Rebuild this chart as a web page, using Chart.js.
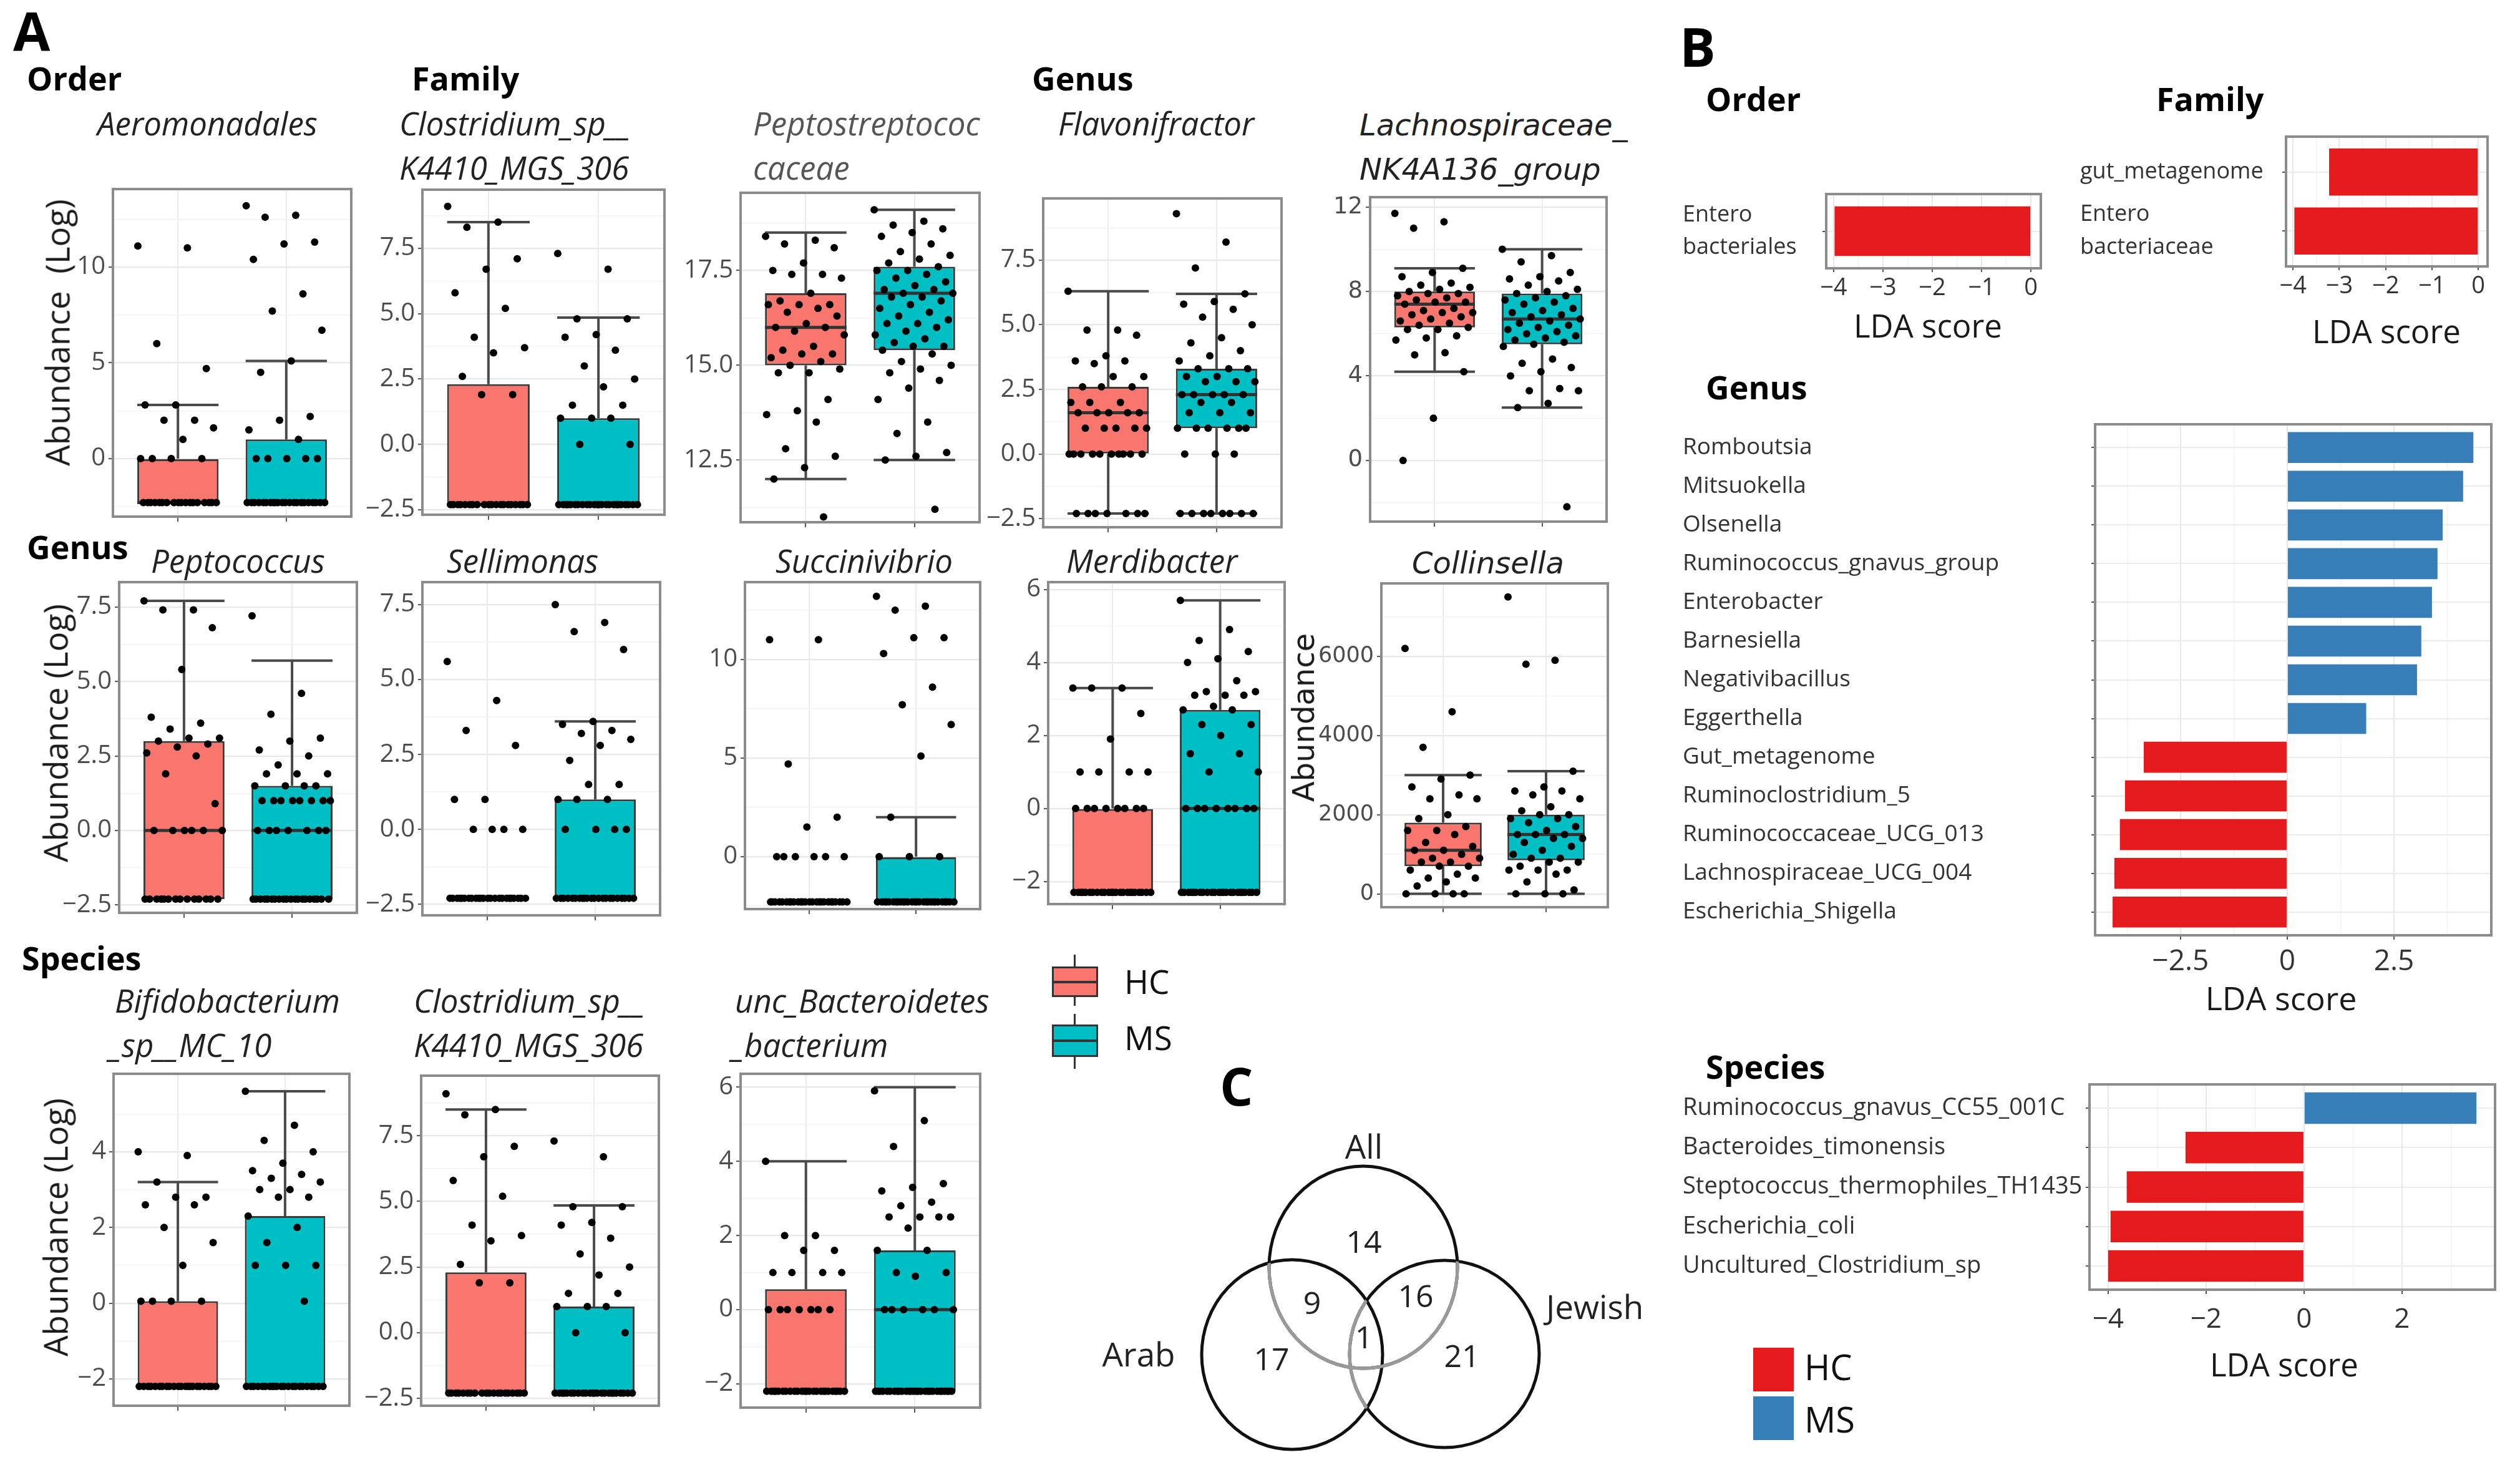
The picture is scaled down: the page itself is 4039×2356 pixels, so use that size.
<!DOCTYPE html>
<html><head><meta charset="utf-8">
<script src="https://cdn.jsdelivr.net/npm/chart.js@4.4.1/dist/chart.umd.min.js"></script>
<style>
html,body{margin:0;padding:0;background:#fff;}
#page{position:relative;width:4039px;height:2356px;overflow:hidden;background:#fff;}
.t{position:absolute;white-space:pre;line-height:1;}
canvas{position:absolute;}
</style></head><body><div id="page"></div>
<script>
// ---------------- DATA ----------------
const groups = ['HC', 'MS'];
// box stats: [lower whisker, Q1, median, Q3, upper whisker]
const aeroBoxHC = [-2.3, -2.3, -2.3, 0.0, 2.8];
const aeroBoxMS = [-2.3, -2.3, -2.3, 1.0, 5.1];
const aeroHC = [11.1, 11.0, 6.0, 4.7, 2.8, 2.8, 2.0, 2.0, 1.6, 1.0, 0, 0, 0, 0, -2.3, -2.3, -2.3, -2.3, -2.3, -2.3, -2.3, -2.3, -2.3, -2.3, -2.3, -2.3, -2.3, -2.3, -2.3, -2.3, -2.3, -2.3];
const aeroMS = [13.2, 12.7, 12.6, 11.3, 11.2, 10.4, 8.6, 7.7, 6.7, 5.1, 4.5, 2.2, 2.0, 1.5, 1.0, 0, 0, 0, 0, 0, -2.3, -2.3, -2.3, -2.3, -2.3, -2.3, -2.3, -2.3, -2.3, -2.3, -2.3, -2.3, -2.3, -2.3, -2.3, -2.3, -2.3, -2.3, -2.3, -2.3, -2.3, -2.3];

const clostBoxHC = [-2.3, -2.3, -2.3, 2.3, 8.5];
const clostBoxMS = [-2.3, -2.3, -2.3, 1.0, 4.85];
const clostHC = [9.1, 8.5, 8.3, 7.1, 6.7, 5.8, 5.2, 4.1, 3.7, 3.5, 2.6, 1.9, 1.9, -2.3, -2.3, -2.3, -2.3, -2.3, -2.3, -2.3, -2.3, -2.3, -2.3, -2.3, -2.3, -2.3, -2.3, -2.3, -2.3, -2.3, -2.3, -2.3, -2.3];
const clostMS = [7.3, 6.7, 4.8, 4.8, 4.2, 4.1, 3.6, 3.0, 2.5, 2.2, 1.5, 1.5, 1.0, 1.0, 1.0, 0.0, 0.0, -2.3, -2.3, -2.3, -2.3, -2.3, -2.3, -2.3, -2.3, -2.3, -2.3, -2.3, -2.3, -2.3, -2.3, -2.3, -2.3, -2.3, -2.3, -2.3, -2.3, -2.3, -2.3, -2.3, -2.3];

const peptoBoxHC = [12.0, 15.0, 16.0, 16.9, 18.5];
const peptoBoxMS = [12.5, 15.4, 16.9, 17.6, 19.1];
const peptoHC = [18.4, 18.3, 18.2, 18.1, 17.7, 17.5, 17.4, 17.4, 17.3, 16.9, 16.7, 16.6, 16.6, 16.6, 16.5, 16.4, 16.3, 16.1, 16.0, 16.0, 15.9, 15.8, 15.5, 15.4, 15.3, 15.3, 15.2, 15.1, 15.0, 14.9, 14.8, 14.8, 14.1, 13.8, 13.7, 13.5, 12.8, 12.6, 12.3, 12.0, 11.0];
const peptoMS = [19.1, 18.8, 18.7, 18.6, 18.5, 18.4, 18.2, 18.0, 17.9, 17.8, 17.7, 17.6, 17.5, 17.5, 17.4, 17.3, 17.2, 17.1, 17.0, 17.0, 16.9, 16.9, 16.8, 16.8, 16.7, 16.6, 16.5, 16.4, 16.3, 16.2, 16.1, 16.1, 16.0, 15.9, 15.8, 15.7, 15.6, 15.5, 15.5, 15.4, 15.3, 15.1, 15.0, 14.9, 14.8, 14.6, 14.4, 14.1, 13.5, 13.2, 12.7, 12.6, 12.5, 11.2];

const flavoBoxHC = [-2.3, 0.0, 1.6, 2.6, 6.3];
const flavoBoxMS = [-2.3, 1.0, 2.3, 3.3, 6.2];
const flavoHC = [6.3, 4.8, 4.8, 4.6, 3.8, 3.6, 3.6, 3.5, 3.0, 3.0, 2.6, 2.6, 2.6, 2.0, 2.0, 2.0, 1.6, 1.6, 1.6, 1.6, 1.6, 1.0, 1.0, 1.0, 1.0, 1.0, 0, 0, 0, 0, 0, 0, 0, 0, 0, 0, -2.3, -2.3, -2.3, -2.3, -2.3, -2.3, -2.3];
const flavoMS = [9.3, 8.2, 7.2, 6.2, 5.9, 5.8, 5.6, 5.3, 5.0, 4.5, 4.3, 4.0, 3.8, 3.6, 3.3, 3.3, 3.3, 3.0, 3.0, 2.8, 2.8, 2.8, 2.3, 2.3, 2.3, 2.3, 2.3, 2.0, 2.0, 1.6, 1.6, 1.6, 1.0, 1.0, 1.0, 1.0, 1.0, 1.0, 0, 0, 0, -2.3, -2.3, -2.3, -2.3, -2.3, -2.3, -2.3, -2.3];

const lachnoBoxHC = [4.2, 6.3, 7.4, 8.0, 9.1];
const lachnoBoxMS = [2.5, 5.5, 6.7, 7.9, 10.0];
const lachnoHC = [11.7, 11.3, 11.0, 9.1, 8.9, 8.7, 8.4, 8.3, 8.2, 8.1, 8.0, 7.9, 7.9, 7.8, 7.7, 7.6, 7.5, 7.5, 7.4, 7.2, 7.1, 7.0, 7.0, 6.9, 6.8, 6.7, 6.6, 6.5, 6.4, 6.3, 6.2, 6.2, 5.9, 5.8, 5.7, 5.1, 5.0, 4.2, 2.0, 0.0];
const lachnoMS = [10.0, 9.7, 9.4, 8.9, 8.7, 8.6, 8.5, 8.3, 8.1, 8.0, 7.9, 7.8, 7.7, 7.6, 7.5, 7.4, 7.2, 7.1, 7.0, 6.9, 6.8, 6.7, 6.6, 6.5, 6.4, 6.3, 6.2, 6.1, 6.0, 5.9, 5.8, 5.7, 5.6, 5.5, 5.4, 4.8, 4.6, 4.4, 4.2, 4.0, 3.4, 3.3, 3.3, 2.7, 2.5, -2.2];

const peptocBoxHC = [-2.3, -2.3, 0.0, 3.0, 7.7];
const peptocBoxMS = [-2.3, -2.3, 0.0, 1.5, 5.7];
const peptocHC = [7.7, 7.4, 7.4, 6.8, 5.4, 3.8, 3.6, 3.4, 3.1, 3.1, 3.0, 2.9, 2.8, 2.6, 2.5, 1.9, 0.9, 0, 0, 0, 0, 0, 0, -2.3, -2.3, -2.3, -2.3, -2.3, -2.3, -2.3, -2.3, -2.3, -2.3, -2.3, -2.3, -2.3, -2.3];
const peptocMS = [7.2, 4.6, 3.9, 3.1, 3.0, 2.7, 2.5, 2.2, 1.9, 1.9, 1.9, 1.5, 1.5, 1.5, 1.5, 1.0, 1.0, 1.0, 1.0, 1.0, 1.0, 1.0, 1.0, 0, 0, 0, 0, 0, 0, 0, -2.3, -2.3, -2.3, -2.3, -2.3, -2.3, -2.3, -2.3, -2.3, -2.3, -2.3, -2.3, -2.3, -2.3, -2.3, -2.3, -2.3, -2.3, -2.3, -2.3];

const selliBoxHC = [-2.3, -2.3, -2.3, -2.3, -2.3];
const selliBoxMS = [-2.3, -2.3, -2.3, 1.0, 3.6];
const selliHC = [5.6, 4.3, 3.3, 2.8, 1.0, 1.0, 0, 0, 0, 0, -2.3, -2.3, -2.3, -2.3, -2.3, -2.3, -2.3, -2.3, -2.3, -2.3, -2.3, -2.3, -2.3, -2.3, -2.3, -2.3, -2.3, -2.3, -2.3, -2.3, -2.3, -2.3, -2.3, -2.3];
const selliMS = [7.5, 6.9, 6.6, 6.0, 3.6, 3.5, 3.3, 3.2, 3.0, 2.8, 2.3, 1.5, 1.5, 1.0, 1.0, 1.0, 0, 0, 0, 0, -2.3, -2.3, -2.3, -2.3, -2.3, -2.3, -2.3, -2.3, -2.3, -2.3, -2.3, -2.3, -2.3, -2.3, -2.3, -2.3, -2.3, -2.3, -2.3, -2.3, -2.3, -2.3];

const succBoxHC = [-2.3, -2.3, -2.3, -2.3, -2.3];
const succBoxMS = [-2.3, -2.3, -2.3, 0.0, 2.0];
const succHC = [11.0, 11.0, 4.7, 2.0, 1.5, 0, 0, 0, 0, 0, 0, -2.3, -2.3, -2.3, -2.3, -2.3, -2.3, -2.3, -2.3, -2.3, -2.3, -2.3, -2.3, -2.3, -2.3, -2.3, -2.3, -2.3, -2.3, -2.3, -2.3, -2.3, -2.3, -2.3, -2.3, -2.3, -2.3];
const succMS = [13.2, 12.7, 12.5, 11.1, 11.1, 10.3, 8.6, 7.7, 6.7, 5.1, 2.0, 0, 0, 0, -2.3, -2.3, -2.3, -2.3, -2.3, -2.3, -2.3, -2.3, -2.3, -2.3, -2.3, -2.3, -2.3, -2.3, -2.3, -2.3, -2.3, -2.3, -2.3, -2.3, -2.3, -2.3, -2.3, -2.3, -2.3, -2.3, -2.3, -2.3];

const merdiBoxHC = [-2.3, -2.3, -2.3, 0.0, 3.3];
const merdiBoxMS = [-2.3, -2.3, 0.0, 2.7, 5.7];
const merdiHC = [3.3, 3.3, 3.3, 2.6, 1.9, 1.0, 1.0, 1.0, 1.0, 0, 0, 0, 0, 0, 0, 0, 0, -2.3, -2.3, -2.3, -2.3, -2.3, -2.3, -2.3, -2.3, -2.3, -2.3, -2.3, -2.3, -2.3, -2.3, -2.3, -2.3, -2.3, -2.3, -2.3, -2.3, -2.3, -2.3, -2.3, -2.3];
const merdiMS = [5.7, 4.9, 4.6, 4.3, 4.1, 4.0, 3.5, 3.2, 3.2, 3.1, 3.1, 3.1, 2.8, 2.7, 2.7, 2.3, 2.3, 2.0, 1.5, 1.5, 1.0, 1.0, 0, 0, 0, 0, 0, 0, 0, 0, -2.3, -2.3, -2.3, -2.3, -2.3, -2.3, -2.3, -2.3, -2.3, -2.3, -2.3, -2.3, -2.3, -2.3, -2.3, -2.3, -2.3, -2.3, -2.3, -2.3, -2.3, -2.3, -2.3, -2.3];

const collinBoxHC = [0, 700, 1100, 1800, 3000];
const collinBoxMS = [0, 850, 1500, 2000, 3100];
const collinHC = [6200, 4600, 3700, 3000, 2900, 2700, 2500, 2400, 2400, 2000, 1900, 1700, 1600, 1600, 1500, 1300, 1200, 1100, 1100, 1000, 900, 900, 800, 800, 700, 700, 600, 500, 400, 400, 300, 200, 0, 0, 0, 0];
const collinMS = [7500, 5900, 5800, 3100, 2700, 2600, 2600, 2500, 2400, 2200, 2100, 2000, 2000, 1900, 1900, 1800, 1700, 1600, 1500, 1500, 1500, 1400, 1400, 1300, 1200, 1100, 1000, 900, 900, 800, 800, 700, 600, 600, 600, 500, 300, 100, 0, 0, 0];

const bifidoBoxHC = [-2.2, -2.2, -2.2, 0.05, 3.2];
const bifidoBoxMS = [-2.2, -2.2, -2.2, 2.3, 5.6];
const bifidoHC = [4.0, 3.9, 3.2, 2.8, 2.8, 2.6, 2.6, 2.0, 1.6, 1.0, 0.05, 0.05, 0.05, 0.05, -2.2, -2.2, -2.2, -2.2, -2.2, -2.2, -2.2, -2.2, -2.2, -2.2, -2.2, -2.2, -2.2, -2.2, -2.2, -2.2, -2.2, -2.2, -2.2, -2.2, -2.2, -2.2];
const bifidoMS = [5.6, 4.7, 4.3, 4.0, 3.7, 3.5, 3.4, 3.3, 3.2, 3.0, 3.0, 2.8, 2.8, 2.3, 2.0, 1.6, 1.0, 1.0, 1.0, 0.05, -2.2, -2.2, -2.2, -2.2, -2.2, -2.2, -2.2, -2.2, -2.2, -2.2, -2.2, -2.2, -2.2, -2.2, -2.2, -2.2, -2.2, -2.2, -2.2, -2.2, -2.2, -2.2];

const bactBoxHC = [-2.2, -2.2, -2.2, 0.55, 4.0];
const bactBoxMS = [-2.2, -2.2, 0.0, 1.6, 6.0];
const bactHC = [4.0, 2.0, 2.0, 1.6, 1.6, 1.0, 1.0, 1.0, 1.0, 0, 0, 0, 0, 0, 0, 0, -2.2, -2.2, -2.2, -2.2, -2.2, -2.2, -2.2, -2.2, -2.2, -2.2, -2.2, -2.2, -2.2, -2.2, -2.2, -2.2, -2.2, -2.2, -2.2, -2.2, -2.2, -2.2, -2.2, -2.2, -2.2];
const bactMS = [5.9, 5.1, 4.4, 3.4, 3.3, 3.2, 2.9, 2.8, 2.5, 2.5, 2.5, 2.5, 2.2, 1.6, 1.6, 1.0, 1.0, 0.9, 0, 0, 0, 0, 0, 0, -2.2, -2.2, -2.2, -2.2, -2.2, -2.2, -2.2, -2.2, -2.2, -2.2, -2.2, -2.2, -2.2, -2.2, -2.2, -2.2, -2.2, -2.2, -2.2, -2.2, -2.2, -2.2, -2.2, -2.2, -2.2, -2.2, -2.2, -2.2];

// LDA (LEfSe) scores
const ldaOrderLabels = [['Entero', 'bacteriales']];
const ldaOrderValues = [-3.98];
const ldaFamilyLabels = ['gut_metagenome', ['Entero', 'bacteriaceae']];
const ldaFamilyValues = [-3.22, -3.97];
const ldaGenusLabels = ['Romboutsia', 'Mitsuokella', 'Olsenella', 'Ruminococcus_gnavus_group', 'Enterobacter', 'Barnesiella', 'Negativibacillus', 'Eggerthella', 'Gut_metagenome', 'Ruminoclostridium_5', 'Ruminococcaceae_UCG_013', 'Lachnospiraceae_UCG_004', 'Escherichia_Shigella'];
const ldaGenusValues = [4.36, 4.12, 3.64, 3.52, 3.39, 3.14, 3.04, 1.85, -3.36, -3.8, -3.92, -4.05, -4.09];
const ldaSpeciesLabels = ['Ruminococcus_gnavus_CC55_001C', 'Bacteroides_timonensis', 'Steptococcus_thermophiles_TH1435', 'Escherichia_coli', 'Uncultured_Clostridium_sp'];
const ldaSpeciesValues = [3.52, -2.42, -3.62, -3.95, -4.0];

// Venn diagram (C)
const vennSets = ['All', 'Arab', 'Jewish'];
const vennCounts = [14, 9, 16, 1, 17, 21]; // All only, All∩Arab, All∩Jewish, all three, Arab only, Jewish only

// ---------------- STYLE / LAYOUT ----------------
const groupColors = ['#F8766D', '#00BFC4'];
const ldaColors = ['#E41A1C', '#377EB8'];
const page = document.getElementById('page');
Chart.defaults.font.family = "'Open Sans', sans-serif";
Chart.defaults.color = '#333';

function txt(s, x, base, size, o = {}) {
  const d = document.createElement('div');
  d.className = 't';
  d.textContent = s;
  const fam = o.family || 'Open Sans';
  const asc = fam.indexOf('DejaVu') === 0 ? 0.846 : 0.888;
  d.style.fontFamily = "'" + fam + "', sans-serif";
  d.style.fontSize = size + 'px';
  d.style.fontWeight = o.bold ? '700' : '400';
  d.style.fontStyle = o.italic ? 'italic' : 'normal';
  d.style.color = o.color || '#1a1a1a';
  d.style.top = (base - asc * size) + 'px';
  d.style.left = x + 'px';
  if (o.align === 'center') d.style.transform = 'translateX(-50%)';
  page.appendChild(d);
}
function vtxt(s, cx, cy, size, o = {}) {
  const d = document.createElement('div');
  d.className = 't';
  d.textContent = s;
  d.style.fontFamily = "'" + (o.family || 'Open Sans') + "', sans-serif";
  d.style.fontSize = size + 'px';
  d.style.color = o.color || '#1a1a1a';
  d.style.left = cx + 'px';
  d.style.top = cy + 'px';
  d.style.transform = 'translate(-50%,-50%) rotate(-90deg)';
  page.appendChild(d);
}
function rect(x, y, w, h, bg, extra) {
  const d = document.createElement('div');
  d.style.position = 'absolute';
  d.style.left = x + 'px'; d.style.top = y + 'px';
  d.style.width = w + 'px'; d.style.height = h + 'px';
  d.style.background = bg;
  d.style.boxSizing = 'border-box';
  if (extra) Object.assign(d.style, extra);
  page.appendChild(d);
}
function mkCanvas(left, top, W, H) {
  const cv = document.createElement('canvas');
  cv.width = W; cv.height = H;
  cv.style.left = left + 'px'; cv.style.top = top + 'px';
  cv.style.width = W + 'px'; cv.style.height = H + 'px';
  page.appendChild(cv);
  return cv;
}
const framePlugin = {
  id: 'frame',
  afterDatasetsDraw(chart) {
    const a = chart.chartArea, ctx = chart.ctx;
    ctx.save();
    ctx.strokeStyle = '#8c8c8c';
    ctx.lineWidth = 4;
    ctx.strokeRect(a.left, a.top, a.right - a.left, a.bottom - a.top);
    ctx.restore();
  }
};
const jit = k => ((((k * 0.6180339887) % 1) - 0.5) * 0.74);
function fmtNum(v, dec) {
  const s = Math.abs(v).toFixed(dec);
  return (v < -1e-9 ? '\u2212' : '') + s;
}
function segData(segs) {
  const out = [];
  segs.forEach(s => { out.push({x: s[0], y: s[1]}, {x: s[2], y: s[3]}, {x: s[2], y: null}); });
  return out;
}

function boxPanel(p) {
  const yW = 130, padT = 40, padB = 32, padR = 14, xH = 12;
  const w = p.R - p.L, h = p.B - p.T;
  const W = yW + w + padR, H = padT + h + xH + padB;
  const cv = mkCanvas(p.L - yW, p.T - padT, W, H);
  const majors = p.major;
  const st = majors[1] - majors[0];
  const minors = [];
  for (let v = majors[0] - st / 2; v <= p.yMax; v += st) if (v >= p.yMin) minors.push(v);
  const isMaj = v => majors.some(m => Math.abs(m - v) < 1e-6);
  const fam = p.font || 'Open Sans';
  const hw = 0.375;
  const stats = [p.boxHC, p.boxMS];
  const whisk = [], meds = [];
  stats.forEach((s, g) => {
    const x = g + 1;
    const lo = s[0], q1 = s[1], med = s[2], q3 = s[3], hi = s[4];
    if (hi > q3) { whisk.push([x, q3, x, hi], [x - hw, hi, x + hw, hi]); }
    if (lo < q1) { whisk.push([x, lo, x, q1], [x - hw, lo, x + hw, lo]); }
    meds.push([x - hw, med, x + hw, med]);
  });
  const datasets = [
    { type: 'bar', data: stats.map((s, g) => ({x: g + 1, y: [s[1], s[3]]})), backgroundColor: groupColors,
      borderColor: '#3a3a3a', borderWidth: 3, borderSkipped: false, barPercentage: 0.75, categoryPercentage: 1, order: 3 },
    { type: 'line', data: segData(whisk), borderColor: '#4a4a4a', borderWidth: 4, pointRadius: 0, spanGaps: false, fill: false, order: 4 },
    { type: 'line', data: segData(meds), borderColor: '#333', borderWidth: 5, pointRadius: 0, spanGaps: false, fill: false, order: 2 }
  ];
  [p.hc, p.ms].forEach((arr, g) => {
    datasets.push({ type: 'scatter', data: arr.map((v, k) => ({x: g + 1 + jit(k), y: v})), pointRadius: 6,
      pointBackgroundColor: '#000', pointBorderWidth: 0, order: 1 });
  });
  new Chart(cv, {
    type: 'bar',
    data: { datasets },
    options: {
      responsive: false, animation: false, devicePixelRatio: 1, events: [],
      layout: { padding: { top: padT, bottom: padB, right: padR, left: 0 } },
      plugins: { legend: { display: false }, tooltip: { enabled: false } },
      scales: {
        x: { type: 'linear', min: 0.4, max: 2.6, offset: false,
          afterBuildTicks: s => { s.ticks = [{value: 1}, {value: 2}]; },
          afterFit: s => { s.height = xH; },
          ticks: { display: false },
          grid: { offset: false, color: '#ececec', lineWidth: 2, tickLength: 8, tickColor: '#555', tickWidth: 2 },
          border: { display: false } },
        y: { type: 'linear', min: p.yMin, max: p.yMax,
          afterBuildTicks: s => { s.ticks = majors.concat(minors).sort((a, b) => a - b).map(v => ({value: v})); },
          afterFit: s => { s.width = yW; },
          ticks: { autoSkip: false, padding: 5, color: '#4d4d4d', font: { family: "'" + fam + "', sans-serif", size: p.fs || 40 },
            callback: v => isMaj(v) ? fmtNum(v, p.dec) : '' },
          grid: { color: c => isMaj(c.tick.value) ? '#e8e8e8' : '#f3f3f3', lineWidth: c => isMaj(c.tick.value) ? 2.2 : 1.4,
            tickLength: 7, tickColor: c => isMaj(c.tick.value) ? '#555' : 'rgba(0,0,0,0)', tickWidth: 2 },
          border: { display: false } }
      }
    },
    plugins: [framePlugin]
  });
}

function ldaPanel(p) {
  const padT = 70, padR = 40, padB = 10, xH = 80;
  const yW = p.L - p.labelLeft;
  const W = yW + (p.R - p.L) + padR, H = padT + (p.B - p.T) + xH + padB;
  const cv = mkCanvas(p.labelLeft, p.T - padT, W, H);
  const n = p.labels.length;
  const majors = p.major, minors = p.minor;
  const isMaj = v => majors.some(m => Math.abs(m - v) < 1e-6);
  new Chart(cv, {
    type: 'bar',
    data: { datasets: [{ data: p.values.map((v, i) => ({x: v, y: i})),
      backgroundColor: p.values.map(v => v < 0 ? ldaColors[0] : ldaColors[1]),
      borderWidth: 0, barPercentage: p.barPct, categoryPercentage: 1 }] },
    options: {
      indexAxis: 'y', responsive: false, animation: false, devicePixelRatio: 1, events: [],
      layout: { padding: { top: padT, bottom: padB, right: padR, left: 0 } },
      plugins: { legend: { display: false }, tooltip: { enabled: false } },
      scales: {
        x: { type: 'linear', min: p.xMin, max: p.xMax, offset: false,
          afterBuildTicks: s => { s.ticks = majors.concat(minors).sort((a, b) => a - b).map(v => ({value: v})); },
          afterFit: s => { s.height = xH; },
          ticks: { autoSkip: false, maxRotation: 0, padding: p.tpad, color: '#333', font: { size: p.tfs },
            callback: v => isMaj(v) ? (Math.abs(v) < 1e-9 ? '0' : fmtNum(v, p.dec)) : '' },
          grid: { offset: false, color: c => isMaj(c.tick.value) ? '#e8e8e8' : '#f3f3f3', lineWidth: c => isMaj(c.tick.value) ? 2 : 1.4,
            tickLength: p.tl, tickColor: c => isMaj(c.tick.value) ? '#555' : 'rgba(0,0,0,0)', tickWidth: 2 },
          border: { display: false } },
        y: { type: 'linear', reverse: true, min: -0.6, max: n - 0.4, offset: false,
          afterBuildTicks: s => { s.ticks = p.labels.map((_, i) => ({value: i})); },
          afterFit: s => { s.width = yW; },
          ticks: { autoSkip: false, crossAlign: 'far', color: '#333', font: { size: p.lfs, lineHeight: 1.45 },
            callback: v => p.labels[Math.round(v)] },
          grid: { offset: false, color: '#ececec', lineWidth: 2, tickLength: 6, tickColor: '#555', tickWidth: 2 },
          border: { display: false } }
      }
    },
    plugins: [framePlugin]
  });
}

// ---------------- PANEL A: boxplots ----------------
const boxPanels = [
  { hc: aeroHC, ms: aeroMS, boxHC: aeroBoxHC, boxMS: aeroBoxMS, L: 181, T: 303, R: 563, B: 828, yMin: -3.03, yMax: 14.07, major: [0, 5, 10], dec: 0 },
  { hc: clostHC, ms: clostMS, boxHC: clostBoxHC, boxMS: clostBoxMS, L: 677, T: 304, R: 1065, B: 825, yMin: -2.69, yMax: 9.74, major: [-2.5, 0, 2.5, 5, 7.5], dec: 1 },
  { hc: peptoHC, ms: peptoMS, boxHC: peptoBoxHC, boxMS: peptoBoxMS, L: 1187, T: 309, R: 1570, B: 837, yMin: 10.86, yMax: 19.55, major: [12.5, 15, 17.5], dec: 1 },
  { hc: flavoHC, ms: flavoMS, boxHC: flavoBoxHC, boxMS: flavoBoxMS, L: 1672, T: 318, R: 2054, B: 845, yMin: -2.83, yMax: 9.89, major: [-2.5, 0, 2.5, 5, 7.5], dec: 1 },
  { hc: lachnoHC, ms: lachnoMS, boxHC: lachnoBoxHC, boxMS: lachnoBoxMS, L: 2196, T: 316, R: 2575, B: 836, yMin: -2.9, yMax: 12.47, major: [0, 4, 8, 12], dec: 0, font: 'DejaVu Sans', fs: 37 },
  { hc: peptocHC, ms: peptocMS, boxHC: peptocBoxHC, boxMS: peptocBoxMS, L: 191, T: 933, R: 572, B: 1463, yMin: -2.76, yMax: 8.33, major: [-2.5, 0, 2.5, 5, 7.5], dec: 1 },
  { hc: selliHC, ms: selliMS, boxHC: selliBoxHC, boxMS: selliBoxMS, L: 677, T: 933, R: 1058, B: 1467, yMin: -2.87, yMax: 8.25, major: [-2.5, 0, 2.5, 5, 7.5], dec: 1 },
  { hc: succHC, ms: succMS, boxHC: succBoxHC, boxMS: succBoxMS, L: 1194, T: 933, R: 1571, B: 1457, yMin: -2.66, yMax: 13.92, major: [0, 5, 10], dec: 0 },
  { hc: merdiHC, ms: merdiMS, boxHC: merdiBoxHC, boxMS: merdiBoxMS, L: 1680, T: 933, R: 2059, B: 1449, yMin: -2.62, yMax: 6.2, major: [-2, 0, 2, 4, 6], dec: 0 },
  { hc: collinHC, ms: collinMS, boxHC: collinBoxHC, boxMS: collinBoxMS, L: 2214, T: 935, R: 2577, B: 1454, yMin: -337, yMax: 7843, major: [0, 2000, 4000, 6000], dec: 0, font: 'DejaVu Sans', fs: 35 },
  { hc: bifidoHC, ms: bifidoMS, boxHC: bifidoBoxHC, boxMS: bifidoBoxMS, L: 182, T: 1721, R: 560, B: 2253, yMin: -2.71, yMax: 6.06, major: [-2, 0, 2, 4], dec: 0 },
  { hc: clostHC, ms: clostMS, boxHC: clostBoxHC, boxMS: clostBoxMS, L: 675, T: 1724, R: 1056, B: 2253, yMin: -2.78, yMax: 9.79, major: [-2.5, 0, 2.5, 5, 7.5], dec: 1 },
  { hc: bactHC, ms: bactMS, boxHC: bactBoxHC, boxMS: bactBoxMS, L: 1187, T: 1721, R: 1571, B: 2256, yMin: -2.64, yMax: 6.36, major: [-2, 0, 2, 4, 6], dec: 0 }
];
boxPanels.forEach(boxPanel);

// ---------------- PANEL B: LDA bars ----------------
ldaPanel({ labels: ldaOrderLabels, values: ldaOrderValues, labelLeft: 2697, L: 2927, T: 311, R: 3271, B: 430,
  xMin: -4.15, xMax: 0.2, major: [-4, -3, -2, -1, 0], minor: [-3.5, -2.5, -1.5, -0.5], dec: 0,
  barPct: 0.8 / 1.2, lfs: 36, tfs: 38, tl: 6, tpad: 3 });
ldaPanel({ labels: ldaFamilyLabels, values: ldaFamilyValues, labelLeft: 3334, L: 3664, T: 219, R: 3987, B: 427,
  xMin: -4.15, xMax: 0.2, major: [-4, -3, -2, -1, 0], minor: [-3.5, -2.5, -1.5, -0.5], dec: 0,
  barPct: 0.8, lfs: 36, tfs: 38, tl: 6, tpad: 3 });
ldaPanel({ labels: ldaGenusLabels, values: ldaGenusValues, labelLeft: 2697, L: 3358, T: 680, R: 3993, B: 1499,
  xMin: -4.5, xMax: 4.78, major: [-2.5, 0, 2.5], minor: [-3.75, -1.25, 1.25, 3.75], dec: 1,
  barPct: 0.8, lfs: 37, tfs: 46, tl: 7, tpad: 8 });
ldaPanel({ labels: ldaSpeciesLabels, values: ldaSpeciesValues, labelLeft: 2697, L: 3349, T: 1738, R: 3999, B: 2067,
  xMin: -4.38, xMax: 3.9, major: [-4, -2, 0, 2], minor: [-3, -1, 1, 3], dec: 0,
  barPct: 0.8, lfs: 38, tfs: 44, tl: 7, tpad: 15 });

// ---------------- PANEL C: Venn ----------------
(function () {
  const X0 = 1760, X1 = 2760, Y0 = 1780, Y1 = 2356;
  const cv = mkCanvas(X0, Y0, X1 - X0, Y1 - Y0);
  const ellipses = [[2185, 2031, 151, 162], [2071, 2171, 145, 152], [2315, 2170, 152, 150]]; // All, Arab, Jewish
  const countPos = [[2186, 1994], [2103, 2092], [2269, 2081], [2186, 2147], [2038, 2182], [2343, 2177]];
  const vennPlugin = {
    id: 'venn',
    afterDatasetsDraw(chart) {
      const ctx = chart.ctx, xs = chart.scales.x, ys = chart.scales.y;
      const E = ellipses.map(e => ({
        cx: xs.getPixelForValue(e[0]), cy: ys.getPixelForValue(e[1]),
        rx: Math.abs(xs.getPixelForValue(e[0] + e[2]) - xs.getPixelForValue(e[0])),
        ry: Math.abs(ys.getPixelForValue(e[1] + e[3]) - ys.getPixelForValue(e[1]))
      }));
      const path = e => { ctx.beginPath(); ctx.ellipse(e.cx, e.cy, e.rx, e.ry, 0, 0, Math.PI * 2); };
      ctx.save();
      ctx.lineWidth = 5; ctx.strokeStyle = '#111';
      E.forEach(e => { path(e); ctx.stroke(); });
      ctx.strokeStyle = '#9a9a9a';
      [[0, 1], [0, 2], [2, 1]].forEach(pr => { ctx.save(); path(E[pr[1]]); ctx.clip(); path(E[pr[0]]); ctx.stroke(); ctx.restore(); });
      ctx.restore();
      ctx.save();
      ctx.fillStyle = '#222'; ctx.font = "50px 'Open Sans', sans-serif";
      ctx.textAlign = 'center'; ctx.textBaseline = 'middle';
      chart.getDatasetMeta(0).data.forEach((pt, i) => ctx.fillText(String(vennCounts[i]), pt.x, pt.y));
      ctx.restore();
    }
  };
  new Chart(cv, {
    type: 'scatter',
    data: { datasets: [{ data: countPos.map(p => ({x: p[0], y: p[1]})), pointRadius: 0 }] },
    options: { responsive: false, animation: false, devicePixelRatio: 1, events: [],
      layout: { padding: 0 },
      plugins: { legend: { display: false }, tooltip: { enabled: false } },
      scales: { x: { display: false, min: X0, max: X1 }, y: { display: false, min: Y0, max: Y1, reverse: true } } },
    plugins: [vennPlugin]
  });
})();

// ---------------- TEXT ----------------
txt('A', 21, 82, 86, {bold: true, color: '#000'});
txt('B', 2692, 107, 86, {bold: true, color: '#000'});
txt('C', 1955, 1773, 84, {bold: true, color: '#000'});
const H = {bold: true, color: '#000'};
txt('Order', 43, 145, 52, H);
txt('Family', 660, 145, 52, H);
txt('Genus', 1654, 145, 52, H);
txt('Genus', 43, 896, 52, H);
txt('Species', 35, 1555, 52, H);
txt('Order', 2734, 178, 52, H);
txt('Family', 3456, 178, 52, H);
txt('Genus', 2734, 640, 52, H);
txt('Species', 2734, 1729, 52, H);

const I = {italic: true, color: '#222'};
txt('Aeromonadales', 156, 217, 51, I);
txt('Clostridium_sp__', 640, 217, 51, I);
txt('K4410_MGS_306', 640, 288, 51, I);
txt('Peptostreptococ', 1207, 217, 51, {italic: true, color: '#555'});
txt('caceae', 1207, 288, 51, {italic: true, color: '#555'});
txt('Flavonifractor', 1696, 217, 51, I);
txt('Lachnospiraceae_', 2179, 217, 48, {italic: true, color: '#222', family: 'DejaVu Sans'});
txt('NK4A136_group', 2179, 288, 48, {italic: true, color: '#222', family: 'DejaVu Sans'});
txt('Peptococcus', 242, 918, 51, I);
txt('Sellimonas', 716, 918, 51, I);
txt('Succinivibrio', 1243, 918, 51, I);
txt('Merdibacter', 1709, 918, 51, I);
txt('Collinsella', 2263, 919, 48, {italic: true, color: '#222', family: 'DejaVu Sans'});
txt('Bifidobacterium', 184, 1623, 51, I);
txt('_sp__MC_10', 175, 1694, 51, I);
txt('Clostridium_sp__', 663, 1623, 51, I);
txt('K4410_MGS_306', 663, 1694, 51, I);
txt('unc_Bacteroidetes', 1178, 1623, 51, I);
txt('_bacterium', 1173, 1694, 51, I);

vtxt('Abundance  (Log)', 91, 533, 53);
vtxt('Abundance (Log)', 88, 1175, 53);
vtxt('Abundance (Log)', 88, 1967, 53);
vtxt('Abundance', 2089, 1150, 48, {family: 'DejaVu Sans'});

// LDA axis titles
txt('LDA score', 3090, 541, 51, {align: 'center'});
txt('LDA score', 3825, 550, 51, {align: 'center'});
txt('LDA score', 3656, 1619, 52, {align: 'center'});
txt('LDA score', 3661, 2206, 51, {align: 'center'});

// Venn set names
txt(vennSets[0], 2186, 1857, 53, {align: 'center', color: '#222'});
txt(vennSets[1], 1825, 2190, 53, {align: 'center', color: '#222'});
txt(vennSets[2], 2478, 2114, 53, {color: '#222'});

// Legend A (boxplot keys)
[[1530, 1612, 1549, 49, 0], [1625, 1713, 1642, 52, 1]].forEach(r => {
  rect(1721, r[0], 3, r[1] - r[0], '#333');
  rect(1686, r[2], 74, r[3], groupColors[r[4]], {border: '3px solid #333'});
  rect(1686, r[2] + r[3] / 2 - 2, 74, 4, '#333');
});
txt(groups[0], 1802, 1593, 53, {color: '#111'});
txt(groups[1], 1802, 1683, 53, {color: '#111'});

// Legend B
rect(2810, 2160, 65, 70, ldaColors[0]);
rect(2810, 2238, 65, 70, ldaColors[1]);
txt(groups[0], 2892, 2212, 56, {color: '#111'});
txt(groups[1], 2892, 2296, 56, {color: '#111'});
</script></body></html>
